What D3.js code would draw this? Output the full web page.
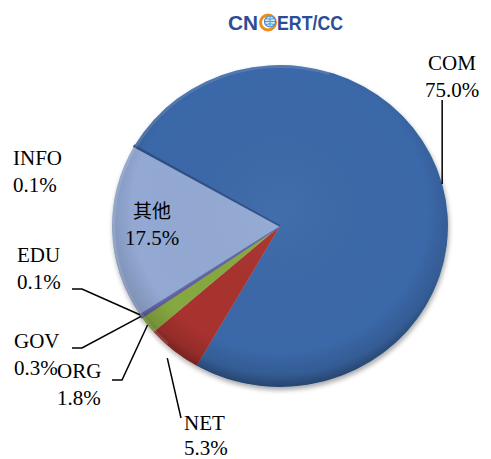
<!DOCTYPE html>
<html>
<head>
<meta charset="utf-8">
<script src="https://cdn.jsdelivr.net/npm/d3@7"></script>
<style>
  body { margin: 0; background: #fff; }
  text { font-family: "Liberation Serif", "Times New Roman", serif; }
</style>
</head>
<body>
<div id="chart"></div>
<script>
// Domain share (%), clockwise from the COM slice
const domains = ["COM", "NET", "ORG", "GOV", "EDU", "其他", "INFO"];
const shares = [75.0, 5.3, 1.8, 0.3, 0.1, 17.5, 0.1];
const shareLabels = ["75.0%", "5.3%", "1.8%", "0.3%", "0.1%", "17.5%", "0.1%"];

const width = 491, height = 459;
const cx = 280, cy = 226, r = 168, squash = 0.958;

const svg = d3.select("#chart").append("svg")
    .attr("width", width)
    .attr("height", height);

const defs = svg.append("defs");

// soft drop shadow under the pie
const shadow = defs.append("filter").attr("id", "shadow")
    .attr("x", "-10%").attr("y", "-10%").attr("width", "120%").attr("height", "125%");
shadow.append("feGaussianBlur").attr("in", "SourceAlpha").attr("stdDeviation", 2.5);
shadow.append("feOffset").attr("dx", 1).attr("dy", 3).attr("result", "off");
shadow.append("feComponentTransfer").append("feFuncA").attr("type", "linear").attr("slope", 0.35);
const merge = shadow.append("feMerge");
merge.append("feMergeNode");
merge.append("feMergeNode").attr("in", "SourceGraphic");

// shading overlay: darker towards the rim, esp. bottom
const shade = defs.append("radialGradient").attr("id", "shade")
    .attr("cx", "50%").attr("cy", "45%").attr("r", "55%");
shade.append("stop").attr("offset", "0%").attr("stop-color", "#fff").attr("stop-opacity", 0.04);
shade.append("stop").attr("offset", "80%").attr("stop-color", "#000").attr("stop-opacity", 0.0);
shade.append("stop").attr("offset", "93%").attr("stop-color", "#000").attr("stop-opacity", 0.12);
shade.append("stop").attr("offset", "100%").attr("stop-color", "#000").attr("stop-opacity", 0.35);

const color = d3.scaleOrdinal()
    .domain(domains)
    .range(["#3a68a8", "#a8322f", "#86a83f", "#6a5d9c", "#5a6fae", "#93a9d3", "#2f4f86"]);

const pie = d3.pie()
    .sort(null)
    .value(d => d.v)
    .startAngle(-60 * Math.PI / 180)
    .endAngle(300 * Math.PI / 180);

const data = domains.map((k, i) => ({ k, v: shares[i], label: shareLabels[i] }));
const arcs = pie(data);

const arc = d3.arc().innerRadius(0).outerRadius(r);

const g = svg.append("g")
    .attr("transform", `translate(${cx},${cy}) scale(1,${squash})`);

const slices = g.append("g").attr("filter", "url(#shadow)");
slices.selectAll("path")
    .data(arcs)
    .join("path")
    .attr("d", arc)
    .attr("fill", d => color(d.data.k))
    .attr("stroke", d => d.data.v < 1 ? color(d.data.k) : "none")
    .attr("stroke-width", d => d.data.v < 1 ? 1.6 : 0);

// shading and a light rim on the upper left
g.append("circle").attr("r", r).attr("fill", "url(#shade)");
g.append("path")
    .attr("d", d3.arc().innerRadius(r - 3).outerRadius(r)({ startAngle: -2.4, endAngle: 0.3 }))
    .attr("fill", "#fff").attr("opacity", 0.12);

// point on the pie rim at a slice's middle angle
function rimPoint(d, k = 1) {
    const a = (d.startAngle + d.endAngle) / 2;
    return [cx + r * k * Math.sin(a), cy - r * k * Math.cos(a) * squash];
}

// label layout: text anchor point and leader line knee
const labelLayout = {
    "COM":  { x: 452, y: 70, anchor: "middle", line: "vertical", lineTop: 100 },
    "NET":  { x: 184, y: 430, anchor: "start", knee: [181, 418] },
    "ORG":  { x: 57, y: 378, anchor: "start", knee: [122, 380], end: [112, 380] },
    "GOV":  { x: 14, y: 348, anchor: "start", knee: [82, 348], end: [72, 348] },
    "EDU":  { x: 17, y: 262, anchor: "start", knee: [82, 289], end: [72, 289] },
    "其他": { x: 152, y: 218, anchor: "middle" },
    "INFO": { x: 13, y: 165, anchor: "start" }
};

const labels = svg.append("g");
arcs.forEach(d => {
    const L = labelLayout[d.data.k];
    const t = labels.append("text")
        .attr("x", L.x).attr("y", L.y)
        .attr("text-anchor", L.anchor)
        .attr("font-size", 21)
        .attr("fill", "#000");
    t.append("tspan").attr("x", L.x).text(d.data.k)
        .style("font-family", d.data.k === "其他" ? "'Noto Sans CJK SC', sans-serif" : null)
        .attr("font-size", d.data.k === "其他" ? 19 : 21);
    t.append("tspan").attr("x", L.x).attr("dy", d.data.k === "NET" ? 25 : 27).text(d.data.label);

    if (L.line === "vertical") {
        const p = rimPoint(d);
        labels.append("line")
            .attr("x1", p[0]).attr("y1", p[1])
            .attr("x2", p[0]).attr("y2", L.lineTop)
            .attr("stroke", "#000").attr("stroke-width", 1.5);
    } else if (L.knee) {
        const p = rimPoint(d, d.data.k === "NET" ? 1.06 : 1);
        const pts = [p, L.knee];
        if (L.end) pts.push(L.end);
        labels.append("path")
            .attr("d", d3.line()(pts))
            .attr("fill", "none")
            .attr("stroke", "#000").attr("stroke-width", 1.5);
    }
});

// CNCERT/CC logo
const logo = svg.append("g").attr("font-family", "'Liberation Sans', Arial, sans-serif")
    .attr("font-weight", "bold").attr("fill", "#2b4d96");
logo.append("text").attr("x", 228).attr("y", 30).attr("font-size", 20)
    .attr("textLength", 30).attr("lengthAdjust", "spacingAndGlyphs")
    .style("font-family", "'Liberation Sans', Arial, sans-serif").text("CN");
logo.append("circle").attr("cx", 268).attr("cy", 22.5).attr("r", 7.5)
    .attr("fill", "none").attr("stroke", "#f08a1c").attr("stroke-width", 3);
logo.append("circle").attr("cx", 270).attr("cy", 21.5).attr("r", 5.5)
    .attr("fill", "#cfe6f5").attr("stroke", "#3a8fd0").attr("stroke-width", 1.2);
logo.append("path")
    .attr("d", "M264.5,21.5 H275.5 M270,16 V27 M266,18.5 Q270,20 274,18.5 M266,24.5 Q270,23 274,24.5")
    .attr("stroke", "#3a8fd0").attr("stroke-width", 0.8).attr("fill", "none");
logo.append("text").attr("x", 277).attr("y", 30).attr("font-size", 20)
    .attr("textLength", 66).attr("lengthAdjust", "spacingAndGlyphs")
    .style("font-family", "'Liberation Sans', Arial, sans-serif").text("ERT/CC");
</script>
</body>
</html>
